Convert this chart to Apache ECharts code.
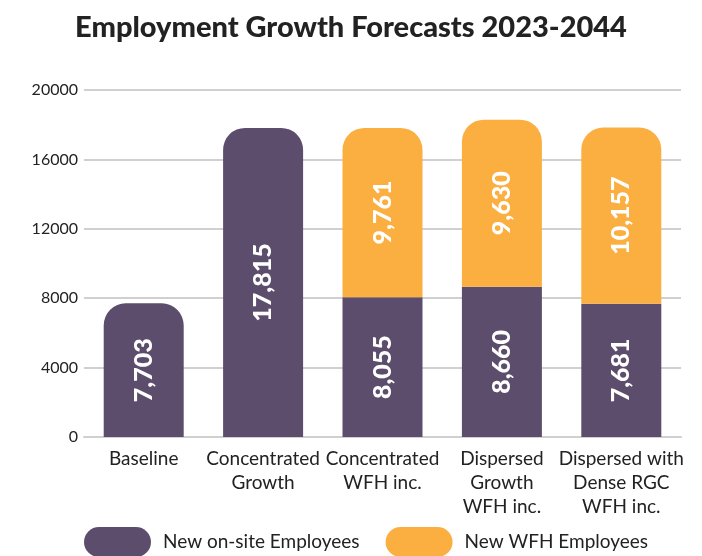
<!DOCTYPE html>
<html>
<head>
<meta charset="utf-8">
<script src="https://cdn.jsdelivr.net/npm/echarts@6/dist/echarts.min.js"></script>
<style>
  html, body { margin: 0; padding: 0; background: #fff; }
  #chart { width: 702px; height: 556px; }
</style>
</head>
<body>
<div id="chart"></div>
<script>
var categories = ['Baseline', 'Concentrated\nGrowth', 'Concentrated\nWFH inc.', 'Dispersed\nGrowth\nWFH inc.', 'Dispersed with\nDense RGC\nWFH inc.'];
var onsiteValues = [7703, 17815, 8055, 8660, 7681];
var wfhValues = [null, null, 9761, 9630, 10157];
var yTicks = [0, 4000, 8000, 12000, 16000, 20000];

var purple = '#5d4d6d';
var orange = '#fbaf41';
var fontFam = 'Lato, sans-serif';

var myChart = echarts.init(document.getElementById('chart'));

// onsite bars get rounded tops only when nothing is stacked on them
var onsiteData = onsiteValues.map(function (v, i) {
    return {
        value: v,
        itemStyle: { borderRadius: wfhValues[i] == null ? [22, 22, 0, 0] : 0 }
    };
});

function fmt(p) {
    return Number(p.value).toLocaleString('en-US');
}

var option = {
    backgroundColor: '#fff',
    animation: false,
    title: {
        text: 'Employment Growth Forecasts 2023-2044',
        left: 'center',
        top: 8,
        textStyle: { fontFamily: fontFam, fontWeight: 900, fontSize: 29, color: '#222' }
    },
    legend: {
        top: 522,
        left: 79,
        itemWidth: 67,
        itemHeight: 30,
        itemGap: 26,
        icon: 'path://M15,0 H52 A15,15 0 0 1 52,30 H15 A15,15 0 0 1 15,0 Z',
        textStyle: { fontFamily: fontFam, fontSize: 19, color: '#222', padding: [0, 0, 0, 7] },
        data: ['New on-site Employees', 'New WFH Employees']
    },
    grid: {
        left: 84,
        right: 21,
        top: 90,
        bottom: 119
    },
    xAxis: {
        type: 'category',
        data: categories,
        axisLine: { show: true, lineStyle: { color: '#d0d0d0', width: 2 } },
        axisTick: { show: false },
        axisLabel: {
            fontFamily: fontFam,
            fontSize: 19,
            color: '#222',
            lineHeight: 24,
            margin: 10,
            interval: 0
        }
    },
    yAxis: {
        type: 'value',
        min: yTicks[0],
        max: yTicks[yTicks.length - 1],
        interval: 4000,
        axisLine: { show: false },
        axisTick: { show: false },
        splitLine: { lineStyle: { color: '#d0d0d0', width: 2 } },
        axisLabel: {
            fontFamily: fontFam,
            fontSize: 16,
            color: '#222',
            margin: 6,
            formatter: function (v) { return String(v); }
        }
    },
    series: [
        {
            name: 'New on-site Employees',
            type: 'bar',
            stack: 'total',
            barWidth: '67%',
            itemStyle: { color: purple },
            label: {
                show: true,
                position: 'inside',
                rotate: 90,
                color: '#fff',
                fontFamily: fontFam,
                fontWeight: 900,
                fontSize: 25,
                formatter: fmt
            },
            data: onsiteData
        },
        {
            name: 'New WFH Employees',
            type: 'bar',
            stack: 'total',
            barWidth: '67%',
            itemStyle: { color: orange, borderRadius: [22, 22, 0, 0] },
            label: {
                show: true,
                position: 'inside',
                rotate: 90,
                color: '#fff',
                fontFamily: fontFam,
                fontWeight: 900,
                fontSize: 25,
                formatter: fmt
            },
            data: wfhValues
        }
    ]
};
myChart.setOption(option);
</script>
</body>
</html>
